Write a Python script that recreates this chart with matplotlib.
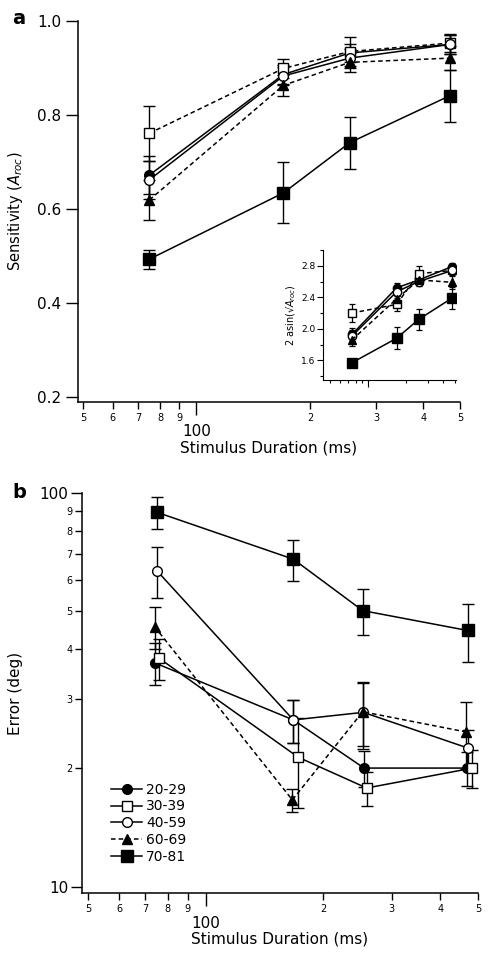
import matplotlib
matplotlib.use("Agg")
import matplotlib.pyplot as plt
from matplotlib.ticker import FixedLocator, FixedFormatter, NullFormatter

plt.rcParams['font.family'] = ['DejaVu Sans']

groups = ["20-29", "30-39", "40-59", "60-69", "70-81"]
markers = ["o", "s", "o", "^", "s"]
filled = [True, False, False, True, True]
dashed_a = [False, True, False, True, False]
dashed_b = [False, False, False, True, False]

# Panel a: sensitivity (A_roc)
dur_a = [75, 170, 255, 470]
sens = {
    "20-29": [0.672, 0.886, 0.932, 0.950],
    "30-39": [0.761, 0.899, 0.935, 0.953],
    "40-59": [0.662, 0.883, 0.921, 0.950],
    "60-69": [0.619, 0.863, 0.912, 0.921],
    "70-81": [0.493, 0.634, 0.741, 0.841],
}
sens_err = {
    "20-29": [0.040, 0.020, 0.020, 0.020],
    "30-39": [0.058, 0.020, 0.030, 0.020],
    "40-59": [0.040, 0.020, 0.020, 0.020],
    "60-69": [0.042, 0.022, 0.020, 0.025],
    "70-81": [0.020, 0.065, 0.055, 0.055],
}

# Inset: 2 asin(sqrt(A_roc))
asin_v = {
    "20-29": [1.93, 2.52, 2.62, 2.79],
    "30-39": [2.20, 2.31, 2.70, 2.74],
    "40-59": [1.91, 2.47, 2.60, 2.74],
    "60-69": [1.86, 2.38, 2.62, 2.59],
    "70-81": [1.57, 1.88, 2.12, 2.39],
}
asin_err = {
    "20-29": [0.08, 0.06, 0.06, 0.05],
    "30-39": [0.12, 0.08, 0.10, 0.06],
    "40-59": [0.08, 0.06, 0.06, 0.05],
    "60-69": [0.08, 0.07, 0.07, 0.08],
    "70-81": [0.03, 0.14, 0.13, 0.14],
}

# Panel b: error (deg)
dur_b = {
    "20-29": [74, 168, 255, 468],
    "30-39": [76, 173, 259, 484],
    "40-59": [75, 168, 254, 470],
    "60-69": [74, 167, 253, 466],
    "70-81": [75, 168, 253, 470],
}
err_deg = {
    "20-29": [37.0, 26.5, 20.0, 20.0],
    "30-39": [38.0, 21.3, 17.8, 20.0],
    "40-59": [63.4, 26.5, 27.7, 22.5],
    "60-69": [45.7, 16.6, 27.8, 24.7],
    "70-81": [89.2, 67.8, 50.2, 44.7],
}
err_deg_se = {
    "20-29": [4.5, 3.3, 2.1, 2.0],
    "30-39": [4.5, 5.5, 1.8, 2.2],
    "40-59": [9.3, 3.3, 5.4, 2.5],
    "60-69": [5.5, 1.1, 5.0, 4.8],
    "70-81": [8.5, 8.1, 6.6, 7.6],
}

fig = plt.figure(figsize=(4.88, 9.65), dpi=100)


def style(i):
    return dict(marker=markers[i], color="black",
                markerfacecolor="black" if filled[i] else "white",
                markeredgecolor="black")


def log_xaxis(ax, lab_fs=7, big_fs=11, labels=True):
    ax.set_xscale("log")
    ax.xaxis.set_major_locator(FixedLocator([100]))
    minors = [50, 60, 70, 80, 90, 200, 300, 400, 500]
    ax.xaxis.set_minor_locator(FixedLocator(minors))
    if labels:
        ax.xaxis.set_major_formatter(FixedFormatter(["100"]))
        ax.xaxis.set_minor_formatter(FixedFormatter(["5", "6", "7", "8", "9", "2", "3", "4", "5"]))
        ax.tick_params(axis="x", which="major", length=9, width=1, labelsize=big_fs, pad=7)
        ax.tick_params(axis="x", which="minor", length=5, width=1, labelsize=lab_fs, pad=3)
    else:
        ax.xaxis.set_major_formatter(NullFormatter())
        ax.xaxis.set_minor_formatter(NullFormatter())
        ax.tick_params(axis="x", which="major", length=5, width=0.8)
        ax.tick_params(axis="x", which="minor", length=2.5, width=0.8)


# ---------- Panel a ----------
axa = fig.add_axes([78 / 488, 1 - 402 / 965, 382 / 488, 381 / 965])
for i, g in enumerate(groups):
    ls = (0, (3, 2)) if dashed_a[i] else "-"
    ms = 8 if g == "70-81" else 7
    axa.errorbar(dur_a, sens[g], yerr=sens_err[g], fmt="none", ecolor="black",
                 elinewidth=1, capsize=4, capthick=1, zorder=2)
    axa.plot(dur_a, sens[g], linestyle=ls, lw=1.1, markersize=ms, zorder=3, **style(i))
axa.set_xlim(48.5, 500)
axa.set_ylim(0.189, 1.0)
log_xaxis(axa)
axa.set_yticks([0.2, 0.4, 0.6, 0.8, 1.0])
axa.set_yticklabels(["0.2", "0.4", "0.6", "0.8", "1.0"])
axa.tick_params(axis="y", length=9, width=1, labelsize=11, pad=3)
for s in ["top", "right"]:
    axa.spines[s].set_visible(False)
for s in ["left", "bottom"]:
    axa.spines[s].set_linewidth(1.1)
axa.set_ylabel(r"Sensitivity ($A_{roc}$)", fontsize=10.5)
axa.yaxis.set_label_coords(-0.14, 0.5)
axa.set_xlabel("Stimulus Duration (ms)", fontsize=11, labelpad=1)
fig.text(12 / 488, 1 - 18 / 965, "a", fontsize=14, fontweight="bold", va="center")

# ---------- Inset ----------
axi = fig.add_axes([323 / 488, 1 - 380 / 965, 133 / 488, 130 / 965])
for i, g in enumerate(groups):
    ls = (0, (3, 2)) if dashed_a[i] else "-"
    ms = 7 if g == "70-81" else 6
    axi.errorbar(dur_a, asin_v[g], yerr=asin_err[g], fmt="none", ecolor="black",
                 elinewidth=0.9, capsize=2.5, capthick=0.9, zorder=2)
    axi.plot(dur_a, asin_v[g], linestyle=ls, lw=1.1, markersize=ms, zorder=3, **style(i))
axi.set_xlim(44, 505)
axi.set_ylim(1.35, 3.0)
log_xaxis(axi, labels=False)
axi.set_yticks([1.6, 2.0, 2.4, 2.8])
axi.set_yticklabels(["1.6", "2.0", "2.4", "2.8"])
axi.set_yticks([1.4, 1.8, 2.2, 2.6, 3.0], minor=True)
axi.tick_params(axis="y", which="major", length=4, width=0.8, labelsize=6.5, pad=1.5)
axi.tick_params(axis="y", which="minor", length=2.5, width=0.8)
for s in ["top", "right"]:
    axi.spines[s].set_visible(False)
axi.set_ylabel(r"2 asin(√$A_{roc}$)", fontsize=7, labelpad=2)
axi.patch.set_alpha(0)

# ---------- Panel b ----------
axb = fig.add_axes([82 / 488, 1 - 893.3 / 965, 396 / 488, 400.6 / 965])
for i, g in enumerate(groups):
    ls = (0, (3, 2)) if dashed_b[i] else "-"
    ms = 8 if g == "70-81" else 7
    axb.errorbar(dur_b[g], err_deg[g], yerr=err_deg_se[g], fmt="none", ecolor="black",
                 elinewidth=1, capsize=4, capthick=1, zorder=2)
    axb.plot(dur_b[g], err_deg[g], linestyle=ls, lw=1.1, markersize=ms, zorder=3,
             label=g, **style(i))
axb.set_xlim(48.2, 500)
axb.set_yscale("log")
axb.set_ylim(9.62, 100)
log_xaxis(axb)
axb.yaxis.set_major_locator(FixedLocator([10, 100]))
axb.yaxis.set_major_formatter(FixedFormatter(["10", "100"]))
axb.yaxis.set_minor_locator(FixedLocator([20, 30, 40, 50, 60, 70, 80, 90]))
axb.yaxis.set_minor_formatter(FixedFormatter(["2", "3", "4", "5", "6", "7", "8", "9"]))
axb.tick_params(axis="y", which="major", length=8, width=1, labelsize=11, pad=2)
axb.tick_params(axis="y", which="minor", length=5, width=1, labelsize=7, pad=2)
for s in ["top", "right"]:
    axb.spines[s].set_visible(False)
for s in ["left", "bottom"]:
    axb.spines[s].set_linewidth(1.1)
axb.set_ylabel("Error (deg)", fontsize=11)
axb.yaxis.set_label_coords(-0.15, 0.5)
axb.set_xlabel("Stimulus Duration (ms)", fontsize=11, labelpad=1)
axb.legend(loc="upper left", bbox_to_anchor=(0.06, 0.29), frameon=False, fontsize=10,
           handlelength=2.2, handletextpad=0.3, labelspacing=0.2, borderaxespad=0)
fig.text(12 / 488, 1 - 493 / 965, "b", fontsize=14, fontweight="bold", va="center")

fig.savefig("out.png", dpi=100)
